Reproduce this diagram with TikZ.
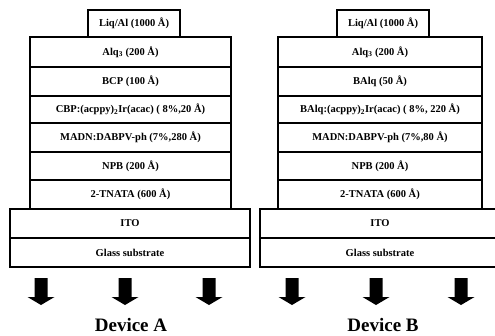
\documentclass[tikz,border=0pt]{standalone}
\usepackage{fontspec}
\setmainfont{Liberation Serif}
\begin{document}
\begin{tikzpicture}[x=1pt,y=-1pt,
  layer/.style={draw, line width=1.6pt, inner sep=0pt, font=\bfseries\fontsize{10.5}{12}\selectfont},
  devlabel/.style={font=\bfseries\fontsize{19}{23}\selectfont, anchor=base, inner sep=0pt},
  emit/.style={fill=black}]
\useasboundingbox (0,0) rectangle (495,335);
% ---------- Device A ----------
\node[layer, minimum width=92pt, minimum height=27pt] (a0) at (134,23.5) {Liq/Al (1000 Å)};
\node[layer, minimum width=201pt, minimum height=30pt] (a1) at (130.5,52) {Alq\textsubscript{3} (200 Å)};
\node[layer, minimum width=201pt, minimum height=29pt] (a2) at (130.5,81.5) {BCP (100 Å)};
\node[layer, minimum width=201pt, minimum height=27pt] (a3) at (130.5,109.5) {CBP:(acppy)\textsubscript{2}Ir(acac) ( 8\%,20 Å)};
\node[layer, minimum width=201pt, minimum height=29pt] (a4) at (130.5,137.5) {MADN:DABPV-ph (7\%,280 Å)};
\node[layer, minimum width=201pt, minimum height=28pt] (a5) at (130.5,166) {NPB (200 Å)};
\node[layer, minimum width=201pt, minimum height=29pt] (a6) at (130.5,194.5) {2-TNATA (600 Å)};
\node[layer, minimum width=240pt, minimum height=29pt] (a7) at (130,223.5) {ITO};
\node[layer, minimum width=240pt, minimum height=29pt] (a8) at (130,252.5) {Glass substrate};
\foreach \cx in {41,125,209}{
  \fill[emit] (\cx-6.5,278) -- (\cx+6.5,278) -- (\cx+6.5,297) -- (\cx+13.5,297) -- (\cx,305) -- (\cx-13.5,297) -- (\cx-6.5,297) -- cycle;
}
\node[devlabel] (la) at (131,331.5) {Device A};
% ---------- Device B ----------
\node[layer, minimum width=92pt, minimum height=27pt] (b0) at (383,23.5) {Liq/Al (1000 Å)};
\node[layer, minimum width=204pt, minimum height=30pt] (b1) at (380,52) {Alq\textsubscript{3} (200 Å)};
\node[layer, minimum width=204pt, minimum height=29pt] (b2) at (380,81.5) {BAlq (50 Å)};
\node[layer, minimum width=204pt, minimum height=27pt] (b3) at (380,109.5) {BAlq:(acppy)\textsubscript{2}Ir(acac) ( 8\%, 220 Å)};
\node[layer, minimum width=204pt, minimum height=29pt] (b4) at (380,137.5) {MADN:DABPV-ph (7\%,80 Å)};
\node[layer, minimum width=204pt, minimum height=28pt] (b5) at (380,166) {NPB (200 Å)};
\node[layer, minimum width=204pt, minimum height=29pt] (b6) at (380,194.5) {2-TNATA (600 Å)};
\node[layer, minimum width=240pt, minimum height=29pt] (b7) at (380,223.5) {ITO};
\node[layer, minimum width=240pt, minimum height=29pt] (b8) at (380,252.5) {Glass substrate};
\foreach \cx in {292,376,461}{
  \fill[emit] (\cx-6.5,278) -- (\cx+6.5,278) -- (\cx+6.5,297) -- (\cx+13.5,297) -- (\cx,305) -- (\cx-13.5,297) -- (\cx-6.5,297) -- cycle;
}
\node[devlabel] (lb) at (383,331.5) {Device B};
\end{tikzpicture}
\end{document}
